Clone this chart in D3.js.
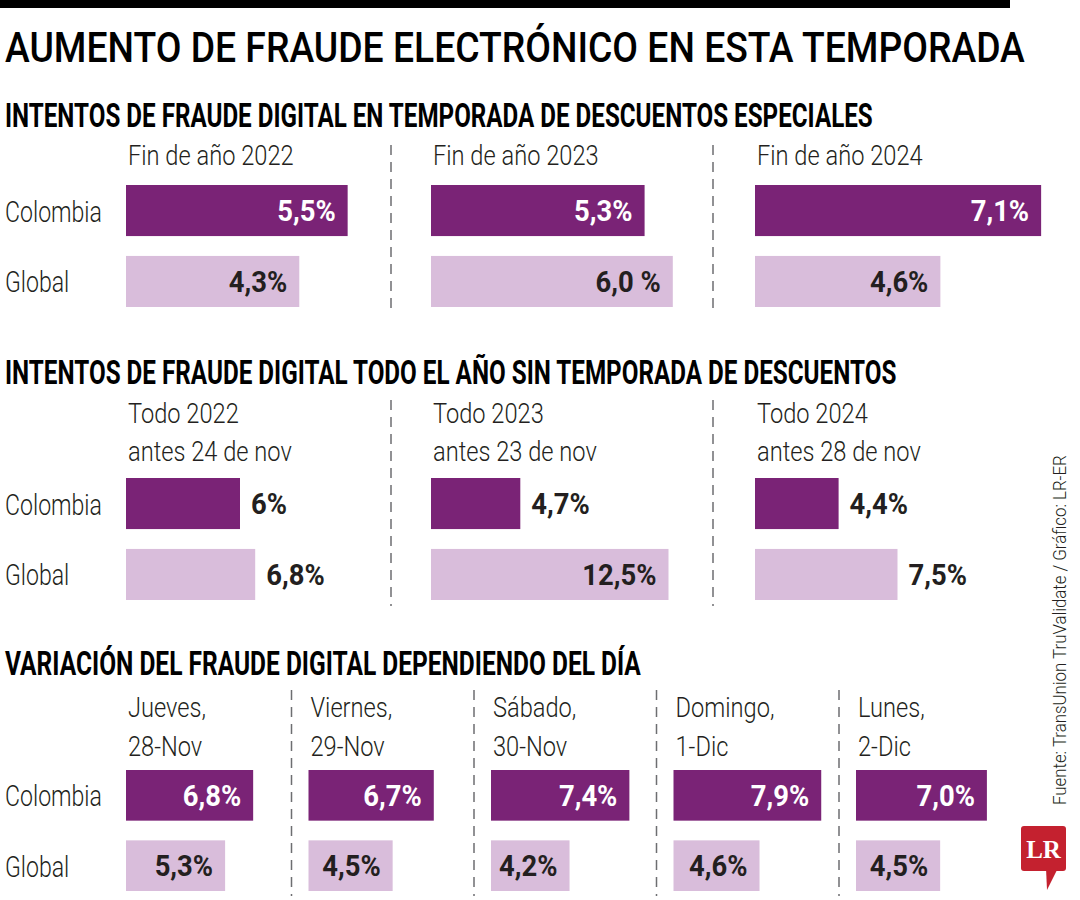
<!DOCTYPE html>
<html><head><meta charset="utf-8">
<script src="https://cdn.jsdelivr.net/npm/d3@7"></script>
<style>body{margin:0;background:#fff} svg{display:block}</style>
</head><body><svg id="c" width="1080" height="900"></svg>
<script>
// ---------- DATA ----------
const mainTitle = "AUMENTO DE FRAUDE ELECTRÓNICO EN ESTA TEMPORADA";
const sectionTitles = [
  "INTENTOS DE FRAUDE DIGITAL EN TEMPORADA DE DESCUENTOS ESPECIALES",
  "INTENTOS DE FRAUDE DIGITAL TODO EL AÑO SIN TEMPORADA DE DESCUENTOS",
  "VARIACIÓN DEL FRAUDE DIGITAL DEPENDIENDO DEL DÍA"
];
const series = ["Colombia", "Global"];

const periods1 = [["Fin de año 2022"], ["Fin de año 2023"], ["Fin de año 2024"]];
const colombia1 = [5.5, 5.3, 7.1];
const global1 = [4.3, 6.0, 4.6];
const colombiaLabels1 = ["5,5%", "5,3%", "7,1%"];
const globalLabels1 = ["4,3%", "6,0 %", "4,6%"];

const periods2 = [["Todo 2022", "antes 24 de nov"], ["Todo 2023", "antes 23 de nov"], ["Todo 2024", "antes 28 de nov"]];
const colombia2 = [6, 4.7, 4.4];
const global2 = [6.8, 12.5, 7.5];
const colombiaLabels2 = ["6%", "4,7%", "4,4%"];
const globalLabels2 = ["6,8%", "12,5%", "7,5%"];

const days3 = [["Jueves,", "28-Nov"], ["Viernes,", "29-Nov"], ["Sábado,", "30-Nov"], ["Domingo,", "1-Dic"], ["Lunes,", "2-Dic"]];
const colombia3 = [6.8, 6.7, 7.4, 7.9, 7.0];
const global3 = [5.3, 4.5, 4.2, 4.6, 4.5];
const colombiaLabels3 = ["6,8%", "6,7%", "7,4%", "7,9%", "7,0%"];
const globalLabels3 = ["5,3%", "4,5%", "4,2%", "4,6%", "4,5%"];

const sourceText = "Fuente: TransUnion TruValidate / Gráfico: LR-ER";
const logoText = "LR";

// ---------- STYLE ----------
const DARK = "#7a2376", LIGHT = "#d9bddb", INK = "#231f20";
const FONT = "Roboto, 'Open Sans', 'DejaVu Sans', sans-serif";
const svg = d3.select("#c");

function ctext(parent, str, x, y, o) {
  o = o || {};
  return parent.append("text")
    .attr("transform", `translate(${x},${y}) scale(${o.sx || 0.8},1)`)
    .attr("font-family", FONT)
    .attr("font-size", o.size || 28)
    .attr("font-weight", o.weight || 300)
    .attr("fill", o.fill || INK)
    .attr("text-anchor", o.anchor || "start")
    .text(str);
}

// text squeezed horizontally to a target width
function fitText(parent, str, x, y, width, o) {
  const t = parent.append("text")
    .attr("font-family", o.family || FONT)
    .attr("font-size", o.size)
    .attr("font-weight", o.weight)
    .attr("fill", o.fill || "#000")
    .text(str);
  const natural = t.node().getComputedTextLength();
  const k = width / natural;
  t.attr("transform", `translate(${x},${y})${o.rotate ? ` rotate(${o.rotate})` : ""} scale(${k},1)`);
  return t;
}

// top rule
svg.append("rect").attr("x", 0).attr("y", 0).attr("width", 1010).attr("height", 8).attr("fill", "#000");

// main title
fitText(svg, mainTitle, 5, 62, 1020, { size: 42, weight: 500 });

// section headings
const headingY = [127, 384, 675], headingW = [868, 892, 636];
sectionTitles.forEach((t, i) => {
  fitText(svg, t, 5, headingY[i], headingW[i], { size: 33, weight: 700 });
});

function drawSection(cfg) {
  const g = svg.append("g");
  const keys = cfg.periods.map(p => p.join(" "));
  const px = cfg.panelX.domain(keys);
  const y = d3.scaleBand().domain(series).range(cfg.yRange).paddingInner(0.28);
  const x = d3.scaleLinear().domain([0, 10]).range([0, cfg.pxPer10]);

  // row labels
  series.forEach(s => {
    ctext(g, s, 5, y(s) + y.bandwidth() / 2 + 11, { size: 30, weight: 300, sx: 0.77 });
  });

  // separators
  cfg.separators.forEach(sx => {
    g.append("line").attr("x1", sx).attr("x2", sx)
      .attr("y1", cfg.sepY[0]).attr("y2", cfg.sepY[1])
      .attr("stroke", "#6d6e71").attr("stroke-width", 1.5)
      .attr("stroke-dasharray", "10,7");
  });

  keys.forEach((k, i) => {
    const x0 = px(k);
    cfg.periods[i].forEach((line, j) => {
      ctext(g, line, x0 + 2, cfg.headerY[j], { size: 28.5, weight: 300, sx: 0.83 });
    });
    const rows = [
      { s: "Colombia", v: cfg.colombia[i], lab: cfg.colombiaLabels[i], fill: DARK, txt: "#fff" },
      { s: "Global", v: cfg.global[i], lab: cfg.globalLabels[i], fill: LIGHT, txt: INK }
    ];
    rows.forEach(r => {
      const w = x(r.v);
      g.append("rect").attr("x", x0).attr("y", y(r.s))
        .attr("width", w).attr("height", y.bandwidth()).attr("fill", r.fill);
      const cy = y(r.s) + y.bandwidth() / 2 + 10.5;
      if (w < cfg.insideMin) {
        ctext(g, r.lab, x0 + w + 11, cy, { size: 29.5, weight: 700, sx: 0.93, fill: INK });
      } else {
        ctext(g, r.lab, x0 + w - 12, cy, { size: 29.5, weight: 700, sx: 0.93, fill: r.txt, anchor: "end" });
      }
    });
  });
}

drawSection({
  periods: periods1, colombia: colombia1, global: global1,
  colombiaLabels: colombiaLabels1, globalLabels: globalLabels1,
  panelX: d3.scaleOrdinal().range([126, 431, 755]),
  yRange: [185, 307], pxPer10: 403,
  headerY: [165], separators: [391, 713], sepY: [145, 312], insideMin: 0
});

drawSection({
  periods: periods2, colombia: colombia2, global: global2,
  colombiaLabels: colombiaLabels2, globalLabels: globalLabels2,
  panelX: d3.scaleOrdinal().range([126, 431, 755]),
  yRange: [478, 600], pxPer10: 190,
  headerY: [423, 461], separators: [391, 713], sepY: [400, 606], insideMin: 200
});

const band3 = d3.scaleBand().domain(days3.map(d => d.join(" "))).range([126, 1038.5]);
drawSection({
  periods: days3, colombia: colombia3, global: global3,
  colombiaLabels: colombiaLabels3, globalLabels: globalLabels3,
  panelX: d3.scaleOrdinal().range(band3.domain().map(k => band3(k))),
  yRange: [770, 891], pxPer10: 187,
  headerY: [717, 756], separators: band3.domain().slice(1).map(k => band3(k) - 17),
  sepY: [690, 896], insideMin: 0
});

// source (vertical)
fitText(svg, sourceText, 1066, 805, 350, { size: 19, weight: 300, fill: INK, rotate: -90 });

// LR logo
const logo = svg.append("g");
logo.append("rect").attr("x", 1021).attr("y", 826).attr("width", 45).attr("height", 45)
  .attr("rx", 3).attr("fill", "#c4212f");
logo.append("path").attr("d", "M1046,868 L1058,868 L1047,890 Z").attr("fill", "#c4212f");
logo.append("text").attr("x", 1043.5).attr("y", 858).attr("text-anchor", "middle")
  .attr("font-family", "'Liberation Serif', 'DejaVu Serif', serif").attr("font-weight", 700)
  .attr("font-size", 25).attr("fill", "#fff").text(logoText);
</script>
</body></html>
